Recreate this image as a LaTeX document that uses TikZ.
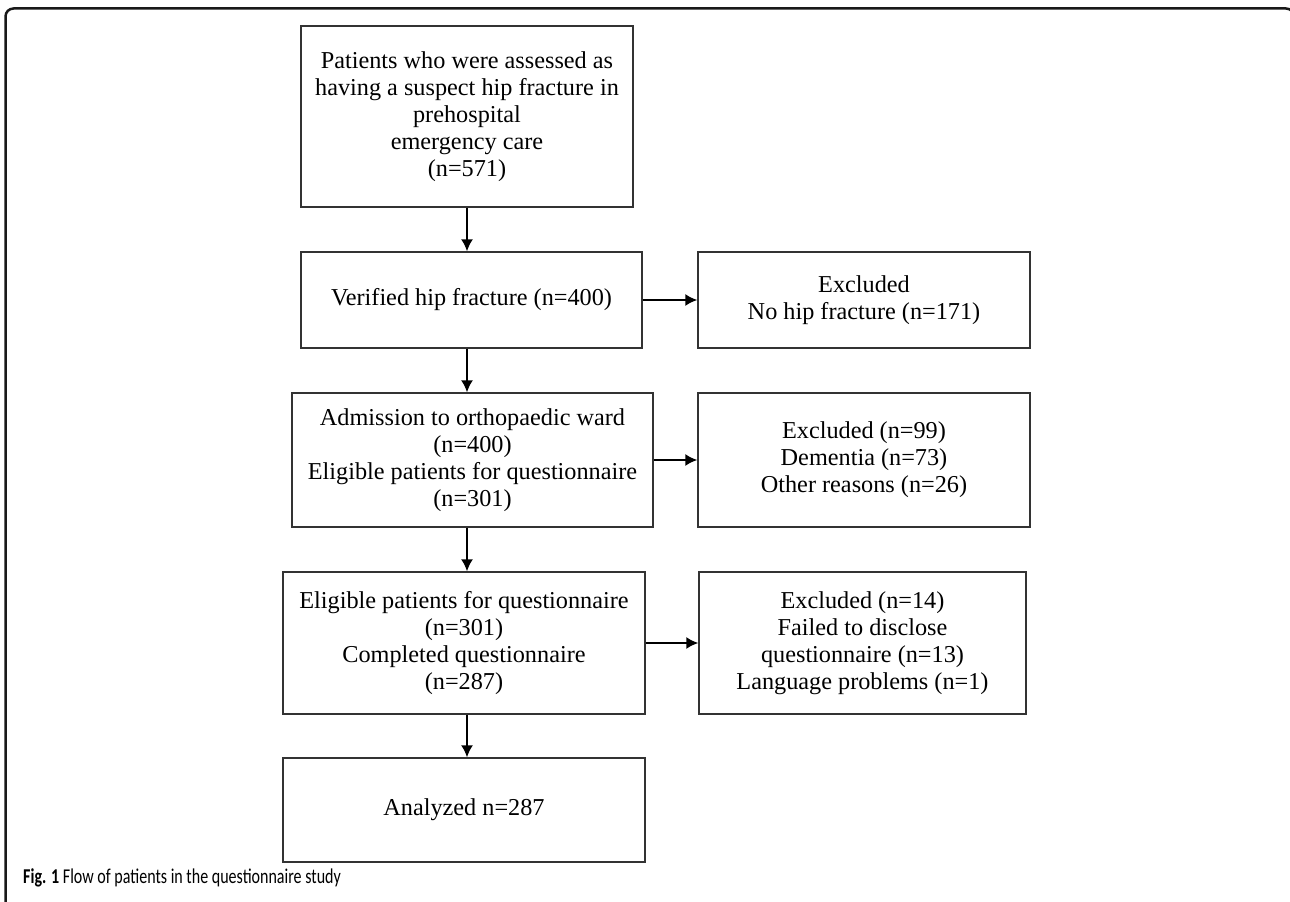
\documentclass[tikz,border=0pt]{standalone}
\usepackage{fontspec}
\setmainfont{Liberation Serif}
\newfontfamily\captionfont[FakeStretch=0.76]{Carlito}
\usetikzlibrary{arrows.meta}

\begin{document}
\begin{tikzpicture}[x=0.2mm, y=-0.2mm]
  \tikzstyle{box} = [rectangle, draw=black!80, line width = 0.25mm, inner sep = 0pt, align = center, font = \fontsize{13.8}{15.3}\selectfont]
  \tikzstyle{arrow} = [-{Latex[length=2.4mm, width=2.4mm]}, line width = 0.4mm]
  \tikzstyle{frame} = [draw=black!90, line width = 0.5mm, rounded corners = 1.6mm]

  \useasboundingbox (0,0) rectangle (1290,902);
  \clip (0,0) rectangle (1290,902);
  \draw[frame] (5.5,910) -- (5.5,8.5) -- (1294,8.5) -- (1294,910);

  \node [box, minimum width = 66.4mm, minimum height = 36.2mm] at (467,116.5) (suspect) {Patients who were assessed as\\having a suspect hip fracture in\\prehospital\\emergency care\\(n=571)};
  \node [box, minimum width = 68.2mm, minimum height = 19.2mm] at (471.5,300) (verified) {Verified hip fracture (n=400)};
  \node [box, minimum width = 72.2mm, minimum height = 26.8mm] at (472.5,460) (admission) {Admission to orthopaedic ward\\(n=400)\\Eligible patients for questionnaire\\(n=301)};
  \node [box, minimum width = 72.4mm, minimum height = 28.4mm] at (464,643) (eligible) {Eligible patients for questionnaire\\(n=301)\\Completed questionnaire\\(n=287)};
  \node [box, minimum width = 72.4mm, minimum height = 20.8mm] at (464,810) (analyzed) {Analyzed n=287};

  \node [box, minimum width = 66.4mm, minimum height = 19.2mm] at (864,300) (nofracture) {Excluded\\No hip fracture (n=171)};
  \node [box, minimum width = 66.4mm, minimum height = 26.8mm] at (864,460) (dementia) {Excluded (n=99)\\Dementia (n=73)\\Other reasons (n=26)};
  \node [box, minimum width = 65.4mm, minimum height = 28.4mm] at (862.5,643) (failed) {Excluded (n=14)\\Failed to disclose\\questionnaire (n=13)\\Language problems (n=1)};

  \node [anchor = base west, font = \captionfont\fontsize{12}{14}\selectfont] at (17,883) (caption) {\textbf{Fig. 1} Flow of patients in the questionnaire study};

  \draw[arrow] (suspect.south) to (suspect.south |- verified.north);
  \draw[arrow] (verified.south -| suspect.south) to (admission.north -| suspect.south);
  \draw[arrow] (admission.south -| suspect.south) to (eligible.north -| suspect.south);
  \draw[arrow] (eligible.south -| suspect.south) to (analyzed.north -| suspect.south);
  \draw[arrow] (verified.east) to (verified.east -| nofracture.west);
  \draw[arrow] (admission.east) to (admission.east -| dementia.west);
  \draw[arrow] (eligible.east) to (eligible.east -| failed.west);
\end{tikzpicture}
\end{document}
